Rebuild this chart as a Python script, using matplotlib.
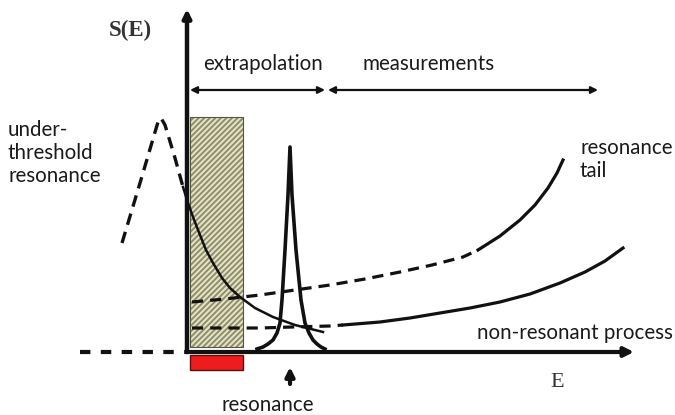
import matplotlib
matplotlib.use("Agg")
import matplotlib.pyplot as plt
from matplotlib.patches import Rectangle

plt.rcParams['font.family'] = ['Lato', 'DejaVu Sans']
plt.rcParams['hatch.linewidth'] = 1.4

# Schematic astrophysical S-factor S(E) versus energy E (arbitrary units)
# Sub-threshold resonance (dashed, below E = 0)
sub_E = [-6.5, -4.7, -2.9, -2.6, -2.2, -1.2, -0.4]
sub_S = [10.9, 16.9, 23.0, 23.4, 22.7, 19.4, 16.5]

# Its high-energy tail entering the physical region
tail_E = [-0.4, 0.0, 0.6, 1.3, 1.9, 2.6, 3.5, 4.3, 5.3, 6.8, 8.6, 10.8, 13.6]
tail_S = [16.5, 15.2, 13.5, 11.7, 10.2, 8.9, 7.4, 6.4, 5.5, 4.4, 3.5, 2.7, 2.0]

# Upper branch: extrapolated (dashed) then measured (solid) resonance tail
upper_dash_E = [0.5, 3.8, 7.3, 10.8, 14.3, 17.8, 21.3, 24.5, 27.6, 29.1]
upper_dash_S = [5.0, 5.3, 5.7, 6.2, 6.7, 7.3, 8.0, 8.7, 9.5, 10.2]
upper_solid_E = [29.1, 31.3, 33.3, 34.8, 36.1, 37.0, 37.6]
upper_solid_S = [10.2, 11.6, 13.2, 14.7, 16.4, 17.9, 19.2]

# Lower branch: non-resonant process
lower_dash_E = [0.5, 4.0, 7.3, 10.5, 14.3, 15.6]
lower_dash_S = [2.4, 2.4, 2.4, 2.5, 2.6, 2.7]
lower_solid_E = [15.6, 19.3, 22.3, 25.3, 28.3, 31.3, 34.3, 37.3, 39.8, 41.8, 43.6]
lower_solid_S = [2.7, 3.0, 3.4, 3.9, 4.4, 5.0, 5.8, 6.9, 8.0, 9.1, 10.4]

# Narrow resonance peak
peak_E = [7.0, 7.6, 8.1, 8.6, 9.0, 9.3, 9.5, 9.8, 10.1, 10.3,
          10.5, 10.9, 11.4, 11.8, 12.2, 12.6, 13.0, 13.4, 13.8]
peak_S = [0.3, 0.5, 0.8, 1.2, 1.9, 2.9, 5.2, 10.2, 15.7, 20.5,
          15.7, 10.2, 5.2, 2.9, 1.9, 1.2, 0.8, 0.5, 0.3]

# Energy windows
window_E = [0.3, 5.6]          # low-energy window (hatched / red)
extrap_E = [0.3, 13.8]
meas_E = [14.1, 41.1]
arrow_S = 26.2
resonance_E = 10.3

fig = plt.figure(figsize=(6.75, 4.15), dpi=100)
ax = fig.add_axes([0, 0, 1, 1])
ax.set_xlim(-18.7, 48.8)
ax.set_ylim(-6.3, 35.2)
ax.axis('off')

ink = '#111111'
txt = '#1a1a1a'
dash = (3.5, 2.2)

# Hatched window and red bar
ax.add_patch(Rectangle((window_E[0], 0.5), window_E[1] - window_E[0], 23.0,
                       facecolor='#e6e4c6', edgecolor='#8f8e6c', hatch='//////',
                       lw=0, zorder=1))
ax.add_patch(Rectangle((window_E[0], 0.5), window_E[1] - window_E[0], 23.0,
                       facecolor='none', edgecolor='#555544', lw=0.8, zorder=2))
ax.add_patch(Rectangle((window_E[0], -1.8), window_E[1] - window_E[0], 1.5,
                       facecolor='#ee1c1c', edgecolor='#5a1010', lw=1.0, zorder=3))

# Axes with arrows
ax.plot([-10.7, 0], [0, 0], color=ink, lw=3, dashes=(2.5, 2.5), zorder=4)
ax.annotate('', xy=(44.7, 0), xytext=(0, 0),
            arrowprops=dict(arrowstyle='-|>', lw=3, color=ink,
                            mutation_scale=14, shrinkA=0, shrinkB=0), zorder=5)
ax.annotate('', xy=(0, 34.3), xytext=(0, 0),
            arrowprops=dict(arrowstyle='-|>', lw=3.2, color=ink,
                            mutation_scale=12, shrinkA=0, shrinkB=0), zorder=5)

# Curves
ax.plot(sub_E, sub_S, color=ink, lw=2.4, dashes=dash, zorder=4)
ax.plot(tail_E, tail_S, color=ink, lw=1.8, zorder=4)
ax.plot(upper_dash_E, upper_dash_S, color=ink, lw=2.3, dashes=dash, zorder=4)
ax.plot(upper_solid_E, upper_solid_S, color=ink, lw=2.3, zorder=4)
ax.plot(lower_dash_E, lower_dash_S, color=ink, lw=2.3, dashes=dash, zorder=4)
ax.plot(lower_solid_E, lower_solid_S, color=ink, lw=2.3, zorder=4)
ax.plot(peak_E, peak_S, color=ink, lw=2.6, zorder=4)

# Range arrows
for rng in (extrap_E, meas_E):
    ax.annotate('', xy=(rng[1], arrow_S), xytext=(rng[0], arrow_S),
                arrowprops=dict(arrowstyle='<|-|>', lw=1.6, color=ink,
                                mutation_scale=10, shrinkA=0, shrinkB=0), zorder=5)

# Arrow marking the resonance energy
ax.annotate('', xy=(resonance_E, -1.5), xytext=(resonance_E, -3.2),
            arrowprops=dict(arrowstyle='-|>', lw=3, color=ink,
                            mutation_scale=13, shrinkA=0, shrinkB=0), zorder=5)

# Labels
serif = ['Liberation Serif', 'DejaVu Serif']
ax.text(-5.7, 32.2, 'S(E)', family=serif, fontsize=16.5, fontweight='bold',
        color='#333333', ha='center', va='center')
ax.text(37.0, -3.0, 'E', family=serif, fontsize=16, color='#333333',
        ha='center', va='center')

fs = 14.8
ax.text(7.6, 28.8, 'extrapolation', fontsize=fs, color=txt, ha='center', va='center')
ax.text(24.2, 28.8, 'measurements', fontsize=fs, color=txt, ha='center', va='center')
ax.text(-17.9, 23.2, 'under-\nthreshold\nresonance', fontsize=fs, color=txt,
        ha='left', va='top', linespacing=1.18)
ax.text(39.3, 21.4, 'resonance\ntail', fontsize=fs, color=txt,
        ha='left', va='top', linespacing=1.18)
ax.text(48.6, 1.9, 'non-resonant process', fontsize=fs, color=txt,
        ha='right', va='center')
ax.text(8.1, -5.3, 'resonance', fontsize=fs, color=txt, ha='center', va='center')

fig.savefig('out.png', dpi=100)
